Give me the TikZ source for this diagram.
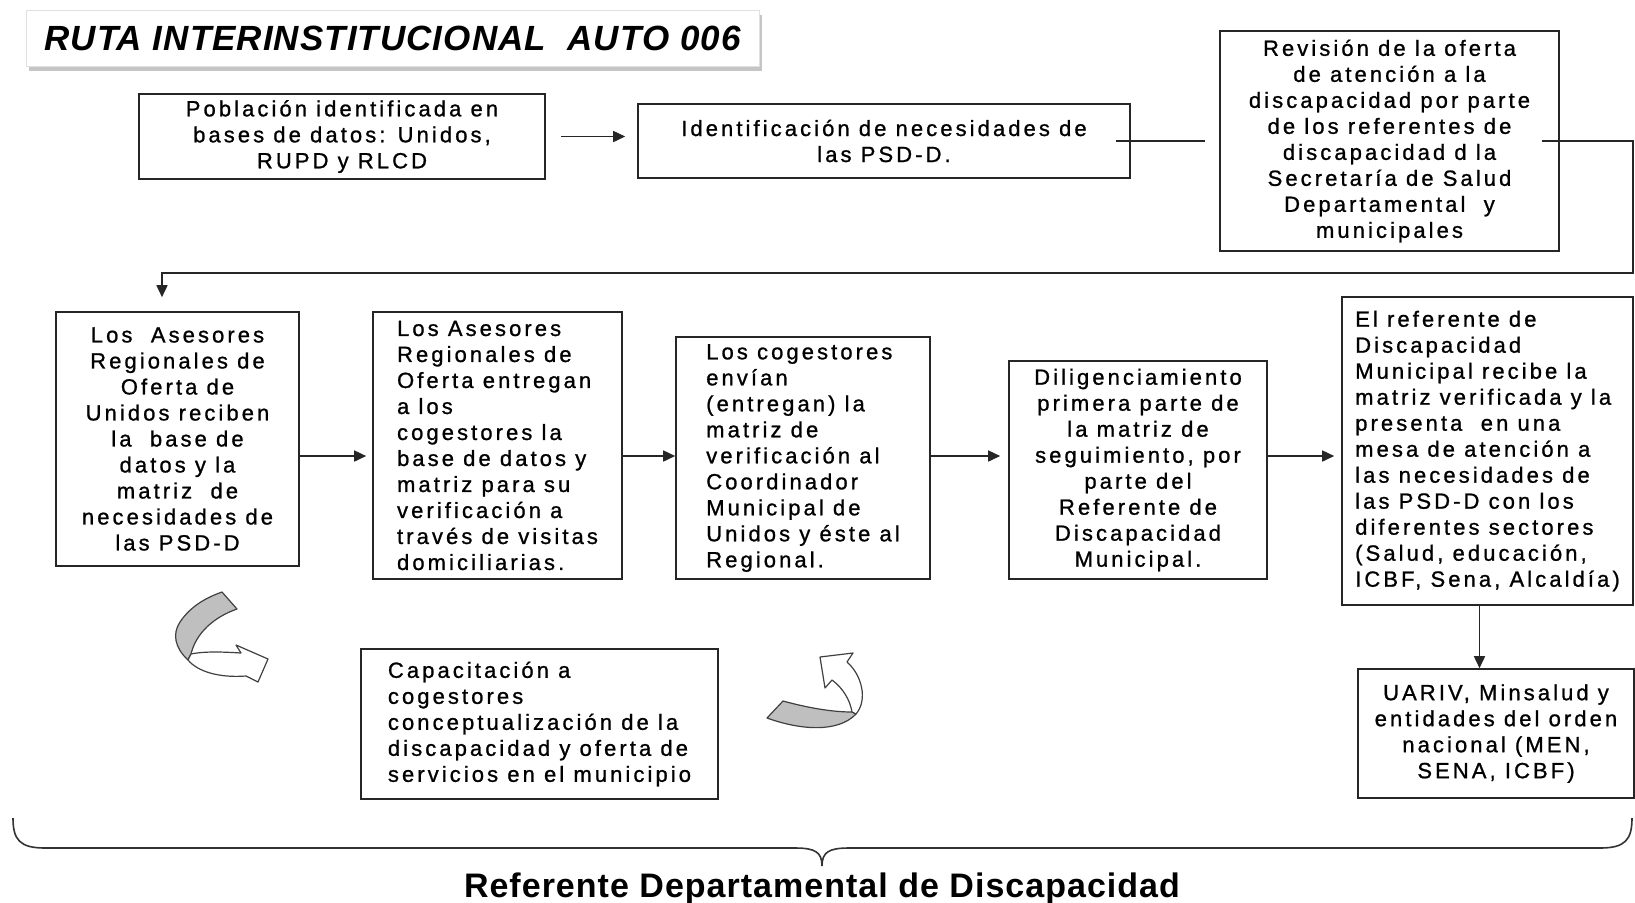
\documentclass[tikz,border=0pt]{standalone}
\usepackage{fontspec}
\setmainfont{Liberation Sans}[LetterSpace=14, FakeBold=1]
\newfontfamily\titlefont{Liberation Sans}[LetterSpace=3]
\newfontfamily\reffont{Liberation Sans}[LetterSpace=3]
\usetikzlibrary{arrows.meta,shadows}
\begin{document}
\begin{tikzpicture}[x=0.5pt, y=-0.5pt,
        box/.style={draw=black!85, line width=0.8pt, inner sep=0pt, align=center, font=\fontsize{11}{13}\selectfont},
        arr/.style={draw=black!85, line width=0.8pt, -{Triangle[length=6pt,width=5.5pt]}},
        band/.style={draw=black!75, line width=0.6pt, line join=round}]
        \useasboundingbox (0,0) rectangle (1635,902);
        \node[fill=white, draw=black!12, minimum width=366.5pt, minimum height=28pt, drop shadow={shadow xshift=1.5pt, shadow yshift=-2.5pt, fill=black!45}, font=\titlefont\fontsize{17.5}{20}\selectfont\bfseries\itshape] (titulo) at (392.5,38) {RUTA INTERINSTITUCIONAL\ \ AUTO 006};
        \node[box, minimum width=203pt, minimum height=42.5pt] (pob) at (342,136.5) {Población identificada en\\bases de datos: Unidos,\\RUPD y RLCD};
        \node[box, minimum width=246pt, minimum height=37pt] (ident) at (884,141) {Identificación de necesidades de\\las PSD-D.};
        \node[box, minimum width=169.5pt, minimum height=110pt] (revis) at (1389.5,141) {Revisión de la oferta\\de atención a la\\discapacidad por parte\\de los referentes de\\discapacidad d la\\Secretaría de Salud\\Departamental~ y\\municipales};
        \node[box, minimum width=121.5pt, minimum height=127pt] (ases) at (177.5,439) {Los~ Asesores\\Regionales de\\Oferta de\\Unidos reciben\\la~ base de\\datos y la\\matriz~ de\\necesidades de\\las PSD-D};
        \node[box, align=left, minimum width=124.5pt, minimum height=133.5pt] (entre) at (497.5,445.5) {Los Asesores\\Regionales de\\Oferta entregan\\a los\\cogestores la\\base de datos y\\matriz para su\\verificación a\\través de visitas\\domiciliarias.};
        \node[box, align=left, minimum width=127pt, minimum height=121pt] (envi) at (803,458) {Los cogestores\\envían\\(entregan) la\\matriz de\\verificación al\\Coordinador\\Municipal de\\Unidos y éste al\\Regional.};
        \node[box, minimum width=129pt, minimum height=109pt] (dilig) at (1138,470) {Diligenciamiento\\primera parte de\\la matriz de\\seguimiento, por\\parte del\\Referente de\\Discapacidad\\Municipal.};
        \node[box, align=left, minimum width=145.5pt, minimum height=154pt] (refmun) at (1487.5,451) {El referente de\\Discapacidad\\Municipal recibe la\\matriz verificada y la\\presenta~ en una\\mesa de atención a\\las necesidades de\\las PSD-D con los\\diferentes sectores\\(Salud, educación,\\ICBF, Sena, Alcaldía)};
        \node[box, minimum width=138pt, minimum height=64.5pt] (uariv) at (1496,733.5) {UARIV, Minsalud y\\entidades del orden\\nacional (MEN,\\SENA, ICBF)};
        \node[box, align=left, minimum width=178.5pt, minimum height=75pt] (capac) at (539.5,724) {Capacitación a\\cogestores\\conceptualización de la\\discapacidad y oferta de\\servicios en el municipio};
        \coordinate (fila) at (0,456);
        \coordinate (giro) at (1633,273);
        \draw[arr, shorten <=7.5pt, shorten >=6pt] (pob.east) -- (ident.west |- pob.east);
        \draw[draw=black!85, line width=0.8pt] ([xshift=-7.5pt]ident.east) -- ([xshift=-7pt]revis.west |- ident.east);
        \draw[arr, shorten >=7pt] ([xshift=-9pt]revis.east) -| (giro) -| ([xshift=-7.75pt]ases.north);
        \foreach \a/\b/\s in {ases/entre/3pt, entre/envi/0pt, envi/dilig/4pt, dilig/refmun/3.5pt}
        \draw[arr, shorten >=\s] (\a.east |- fila) -- (\b.west |- fila);
        \draw[arr] ([xshift=-4pt]refmun.south) -- ([xshift=-4pt]refmun.south |- uariv.north);
        \filldraw[band, fill=gray!50] (222,592) -- (237,609) .. controls (214,617) and (196,633) .. (191,654) -- (188,660) .. controls (175,648) and (172,634) .. (180,622) .. controls (190,607) and (205,598) .. (222,592) -- cycle;
        \filldraw[band, fill=white] (191,654) .. controls (205,651) and (225,652) .. (241,653) -- (236,645) -- (268,659) -- (258,682) -- (246,676) .. controls (220,678) and (198,672) .. (188,660) -- cycle;
        \filldraw[band, fill=gray!50] (767,718) -- (783,701) .. controls (805,707) and (830,712) .. (852,712) -- (856,714) .. controls (838,733) and (800,730) .. (767,718) -- cycle;
        \filldraw[band, fill=white] (852,712) .. controls (850,700) and (843,688) .. (832,680) -- (825,688) -- (820,657) -- (853,653) -- (847,662) .. controls (862,675) and (868,700) .. (856,714) -- cycle;
        \draw[black!80, line width=0.8pt] (13,818) .. controls (13,840) and (20,848) .. (45,848) -- (795,848) .. controls (815,848) and (822,852) .. (822,866) .. controls (822,852) and (829,848) .. (849,848) -- (1600,848) .. controls (1625,848) and (1632,840) .. (1632,818);
        \node[font=\reffont\fontsize{17}{20}\selectfont\bfseries, anchor=base] (refdep) at (822,897) {Referente Departamental de Discapacidad};
\end{tikzpicture}
\end{document}
